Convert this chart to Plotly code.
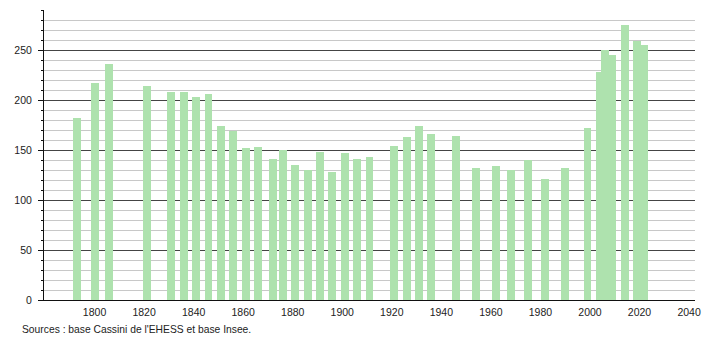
import plotly.graph_objects as go

years = [1793, 1800, 1806, 1821, 1831, 1836, 1841, 1846, 1851, 1856,
         1861, 1866, 1872, 1876, 1881, 1886, 1891, 1896, 1901, 1906,
         1911, 1921, 1926, 1931, 1936, 1946, 1954, 1962, 1968, 1975,
         1982, 1990, 1999, 2004, 2006, 2009, 2014, 2019, 2022]
population = [182, 217, 236, 214, 208, 208, 203, 206, 174, 169,
              152, 153, 141, 150, 135, 130, 148, 128, 147, 141,
              143, 154, 163, 174, 166, 164, 132, 134, 130, 140,
              121, 132, 172, 228, 250, 245, 275, 259, 255]
x_ticks = [1800, 1820, 1840, 1860, 1880, 1900, 1920, 1940, 1960, 1980, 2000, 2020, 2040]
y_ticks = [0, 50, 100, 150, 200, 250]
source_text = "Sources : base Cassini de l'EHESS et base Insee."

fig = go.Figure()
fig.add_trace(go.Bar(
    x=years, y=population, width=3.2,
    marker=dict(color="#aee2ae", line=dict(width=0)),
    hoverinfo="x+y",
))

fig.update_layout(
    width=710, height=340,
    margin=dict(l=44, r=9, t=10, b=40),
    paper_bgcolor="white", plot_bgcolor="white",
    font=dict(family="Liberation Sans, Arial, sans-serif", size=10.5, color="#222"),
    showlegend=False,
    bargap=0,
    xaxis=dict(
        range=[1779.6, 2042.4],
        tickvals=x_ticks,
        ticktext=[str(v) for v in x_ticks],
        showgrid=False, zeroline=False,
        showline=True, linecolor="#111", linewidth=1,
        ticks="", ticklabelstandoff=2,
        fixedrange=True,
    ),
    yaxis=dict(
        range=[0, 290],
        tickvals=y_ticks,
        showgrid=True, gridcolor="#444", gridwidth=1,
        zeroline=False,
        showline=True, linecolor="#111", linewidth=1,
        ticks="outside", ticklen=5, tickcolor="#111",
        ticklabelstandoff=4,
        minor=dict(dtick=10, tick0=0, showgrid=True, gridcolor="#c8c8c8",
                   gridwidth=1, ticks="outside", ticklen=2, tickcolor="#111"),
        fixedrange=True,
    ),
)

fig.add_annotation(
    text=source_text, xref="paper", yref="paper",
    x=-24/657, y=0, yshift=-22,
    xanchor="left", yanchor="top", showarrow=False,
    font=dict(size=10.3, color="#222"),
)

fig.write_html("out.html")
